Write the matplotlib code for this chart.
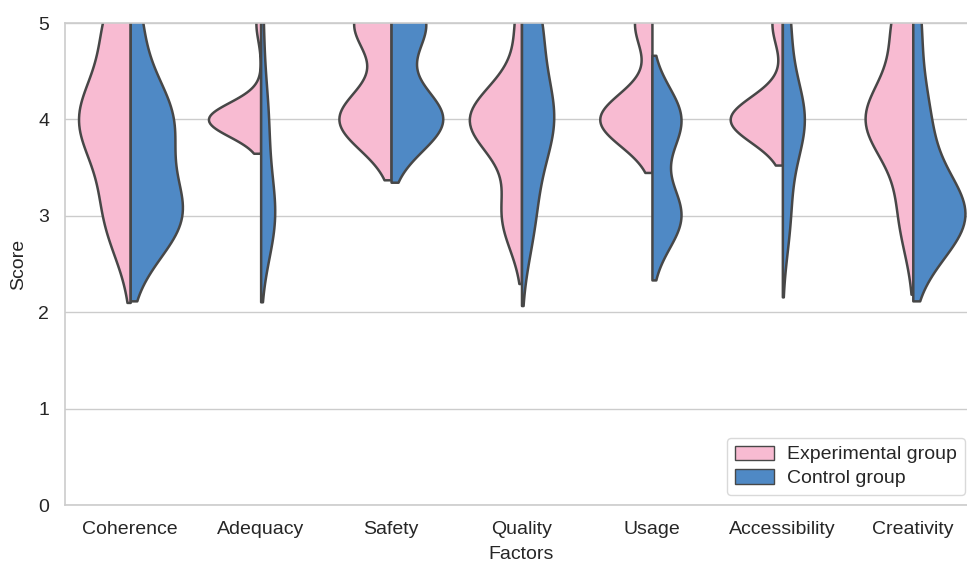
import matplotlib
matplotlib.use("Agg")
import matplotlib.pyplot as plt
from matplotlib.patches import Patch
import seaborn as sns
import pandas as pd

factors = ["Coherence", "Adequacy", "Safety", "Quality", "Usage", "Accessibility", "Creativity"]
groups = ["Experimental group", "Control group"]
colors = ["#F8BBD2", "#4F89C5"]
edge = "#474747"

# Experimental group scores (Likert 1-5)
exp_coherence = [3, 3, 3, 4, 4, 4, 4, 4, 4, 5, 5, 5]
exp_adequacy = [4, 4, 4, 4, 4, 4, 4, 4, 4, 4, 4, 5]
exp_safety = [4, 4, 4, 4, 4, 4, 4, 5, 5, 5, 5, 5]
exp_quality = [3, 3, 3, 4, 4, 4, 4, 4, 4, 4, 4, 5]
exp_usage = [4, 4, 4, 4, 4, 4, 4, 4, 4, 5, 5, 5]
exp_accessibility = [4, 4, 4, 4, 4, 4, 4, 4, 4, 4, 5, 5]
exp_creativity = [3, 3, 4, 4, 4, 4, 4, 4, 4, 5, 5, 5]

# Control group scores (Likert 1-5)
ctl_coherence = [3, 3, 3, 3, 3, 4, 4, 4, 4, 5]
ctl_adequacy = [3, 3, 3, 3, 3, 3, 4, 4, 4, 5]
ctl_safety = [4, 4, 4, 4, 4, 4, 5, 5, 5, 5]
ctl_quality = [3, 3, 4, 4, 4, 4, 4, 5, 5, 5]
ctl_usage = [3, 3, 3, 3, 3, 4, 4, 4, 4, 4]
ctl_accessibility = [3, 3, 4, 4, 4, 4, 4, 4, 5, 5]
ctl_creativity = [3, 3, 3, 3, 3, 3, 3, 4, 4, 5]

exp_scores = [exp_coherence, exp_adequacy, exp_safety, exp_quality, exp_usage,
              exp_accessibility, exp_creativity]
ctl_scores = [ctl_coherence, ctl_adequacy, ctl_safety, ctl_quality, ctl_usage,
              ctl_accessibility, ctl_creativity]

rows = []
for f, e, c in zip(factors, exp_scores, ctl_scores):
    rows += [(f, groups[0], v) for v in e]
    rows += [(f, groups[1], v) for v in c]
df = pd.DataFrame(rows, columns=["Factors", "Group", "Score"])

sns.set_theme(style="whitegrid")
plt.rcParams["font.family"] = ["Liberation Sans", "DejaVu Sans"]

W, H = 967, 562
ax_l, ax_r, ax_t, ax_b = 65, 978, 23, 505
fig = plt.figure(figsize=(W / 100, H / 100), dpi=100)
ax = fig.add_axes([ax_l / W, 1 - ax_b / H, (ax_r - ax_l) / W, (ax_b - ax_t) / H])

# area scaling shared by the two halves of each factor
for f in factors:
    sub = df[df["Factors"] == f]
    sns.violinplot(data=sub, x="Factors", y="Score", hue="Group", order=factors,
                   hue_order=groups, split=True, inner=None, density_norm="area",
                   common_norm=True, palette=colors, saturation=1, linewidth=1.8,
                   linecolor=edge, legend=False, ax=ax)

ax.set_ylim(0, 5)
ax.set_xlim(-0.5, 6.5)
ax.set_yticks([0, 1, 2, 3, 4, 5])
ax.tick_params(axis="both", labelsize=14, colors="#262626", length=0, pad=11.5)
ax.set_xlabel("Factors", fontsize=14, color="#262626", labelpad=6)
ax.set_ylabel("Score", fontsize=14, color="#262626", labelpad=8)
ax.grid(axis="x", visible=False)
ax.grid(axis="y", color="#cccccc", linewidth=1.0)
for s in ax.spines.values():
    s.set_color("#cccccc")
    s.set_linewidth(1.2)

handles = [Patch(facecolor=colors[i], edgecolor=edge, linewidth=1.0, label=groups[i])
           for i in range(2)]
anchor = ((965 - ax_l) / (ax_r - ax_l), (ax_b - 495) / (ax_b - ax_t))
leg = ax.legend(handles=handles, loc="lower right", bbox_to_anchor=anchor,
                borderaxespad=0, fontsize=14, frameon=True, borderpad=0.4,
                handlelength=2.0, handleheight=0.75, labelspacing=0.3,
                handletextpad=0.7)
leg.get_frame().set_edgecolor("#d0d0d0")

fig.savefig("out.png", dpi=100)
